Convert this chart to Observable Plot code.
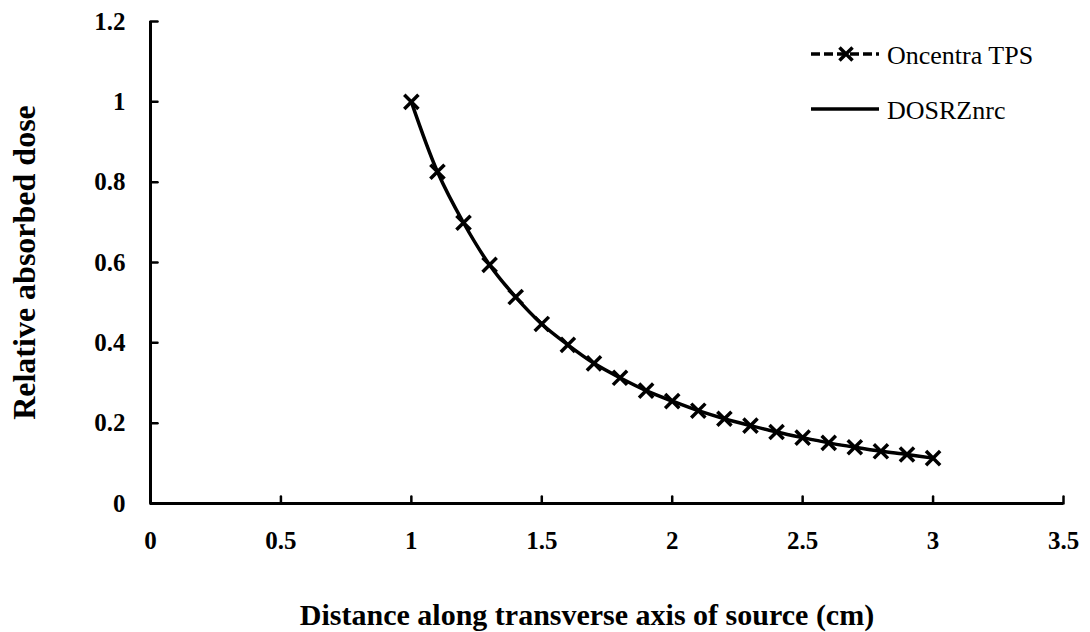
<!DOCTYPE html>
<html>
<head>
<meta charset="utf-8">
<script src="https://cdn.jsdelivr.net/npm/d3@7"></script>
<script src="https://cdn.jsdelivr.net/npm/@observablehq/plot@0.6"></script>
<style>
  html, body { margin: 0; padding: 0; background: #fff; }
  #wrap { position: relative; width: 1090px; height: 632px; }
  #legend { position: absolute; left: 0; top: 0; pointer-events: none; }
  #legend text { font-family: "Liberation Serif", "Times New Roman", serif; font-size: 26px; fill: #000; }
</style>
</head>
<body>
<div id="wrap"></div>
<script>
// Distance along the transverse axis (cm)
const distance = [1.0, 1.1, 1.2, 1.3, 1.4, 1.5, 1.6, 1.7, 1.8, 1.9, 2.0,
                  2.1, 2.2, 2.3, 2.4, 2.5, 2.6, 2.7, 2.8, 2.9, 3.0];
// Relative absorbed dose, treatment planning system
const oncentra = [1.000, 0.826, 0.699, 0.594, 0.514, 0.447, 0.395, 0.349, 0.313, 0.281, 0.255,
                  0.231, 0.211, 0.194, 0.178, 0.164, 0.151, 0.140, 0.130, 0.122, 0.113];
// Relative absorbed dose, Monte Carlo (DOSRZnrc)
const dosrz    = [1.000, 0.826, 0.699, 0.594, 0.514, 0.447, 0.395, 0.349, 0.313, 0.281, 0.255,
                  0.231, 0.211, 0.194, 0.178, 0.164, 0.151, 0.140, 0.130, 0.122, 0.113];

const xTicks = [0, 0.5, 1, 1.5, 2, 2.5, 3, 3.5];
const xTickLabels = ["0", "0.5", "1", "1.5", "2", "2.5", "3", "3.5"];
const yTicks = [0, 0.2, 0.4, 0.6, 0.8, 1, 1.2];
const yTickLabels = ["0", "0.2", "0.4", "0.6", "0.8", "1", "1.2"];

const seriesNames = ["Oncentra TPS", "DOSRZnrc"];
const xTitle = "Distance along transverse axis of source (cm)";
const yTitle = "Relative absorbed dose";

const tpsRows = distance.map((d, i) => ({x: d, y: oncentra[i]}));
const mcRows = distance.map((d, i) => ({x: d, y: dosrz[i]}));

const serif = "Liberation Serif, Times New Roman, serif";

// a plain straight stroke for vector marks (used for the inward tick marks)
const stem = {draw(context, l) { context.moveTo(0, 0); context.lineTo(0, -l); }};

const chart = Plot.plot({
  width: 1090,
  height: 632,
  marginLeft: 150,
  marginRight: 27,
  marginTop: 21,
  marginBottom: 129,
  style: {fontFamily: serif, background: "#fff", color: "#000", overflow: "visible"},
  x: {domain: [0, 3.5], axis: null},
  y: {domain: [0, 1.2], axis: null},
  marks: [
    // bold tick labels
    Plot.axisX(xTicks, {
      anchor: "bottom", tickSize: 0, tickPadding: 28,
      tickFormat: (d) => xTickLabels[xTicks.indexOf(d)],
      fontSize: 25, fontWeight: "bold", label: null
    }),
    Plot.axisY(yTicks, {
      anchor: "left", tickSize: 0, tickPadding: 25,
      tickFormat: (d) => yTickLabels[yTicks.indexOf(d)],
      fontSize: 25, fontWeight: "bold", label: null
    }),
    // tick marks pointing into the plot
    Plot.vector(xTicks, {x: (d) => d, frameAnchor: "bottom", length: 7, rotate: 0,
      anchor: "start", shape: stem, stroke: "#000", strokeWidth: 2.5}),
    Plot.vector(yTicks, {y: (d) => d, frameAnchor: "left", length: 7, rotate: 90,
      anchor: "start", shape: stem, stroke: "#000", strokeWidth: 2.5}),
    Plot.ruleX([0], {strokeWidth: 3}),
    Plot.ruleY([0], {strokeWidth: 3}),
    // Monte Carlo curve (smoothed solid)
    Plot.line(mcRows, {x: "x", y: "y", curve: "catmull-rom", stroke: "#000", strokeWidth: 3.5}),
    // TPS curve (dashed) with cross markers
    Plot.line(tpsRows, {x: "x", y: "y", curve: "catmull-rom", stroke: "#000", strokeWidth: 2, strokeDasharray: "9,4"}),
    Plot.dot(tpsRows, {x: "x", y: "y", symbol: "times", r: 6.5, stroke: "#000", strokeWidth: 3.5}),
    // axis titles
    Plot.text([yTitle], {
      frameAnchor: "left", rotate: -90, dx: -126, fontSize: 32, fontWeight: "bold",
      textAnchor: "middle", lineAnchor: "middle", fill: "#000"
    }),
    Plot.text([xTitle], {
      frameAnchor: "bottom", dx: -20, dy: 112, fontSize: 30, fontWeight: "bold",
      textAnchor: "middle", lineAnchor: "middle", fill: "#000"
    })
  ]
});

const wrap = document.getElementById("wrap");
wrap.appendChild(chart);

// Legend in the upper right of the plot area
const ns = "http://www.w3.org/2000/svg";
const leg = d3.select(wrap).append(() => document.createElementNS(ns, "svg"))
  .attr("id", "legend").attr("width", 1090).attr("height", 632);

const rows = [
  {name: seriesNames[0], y: 54, dash: "9,4", marker: true},
  {name: seriesNames[1], y: 109, dash: null, marker: false}
];
rows.forEach((r) => {
  leg.append("line")
    .attr("x1", 811).attr("x2", 879).attr("y1", r.y).attr("y2", r.y)
    .attr("stroke", "#000").attr("stroke-width", 3.5)
    .attr("stroke-dasharray", r.dash);
  if (r.marker) {
    leg.append("path")
      .attr("transform", `translate(846,${r.y})`)
      .attr("d", d3.symbol(d3.symbolTimes, Math.PI * 36)())
      .attr("fill", "none").attr("stroke", "#000").attr("stroke-width", 3.5);
  }
  leg.append("text")
    .attr("x", 887).attr("y", r.y + 10)
    .text(r.name);
});
</script>
</body>
</html>
